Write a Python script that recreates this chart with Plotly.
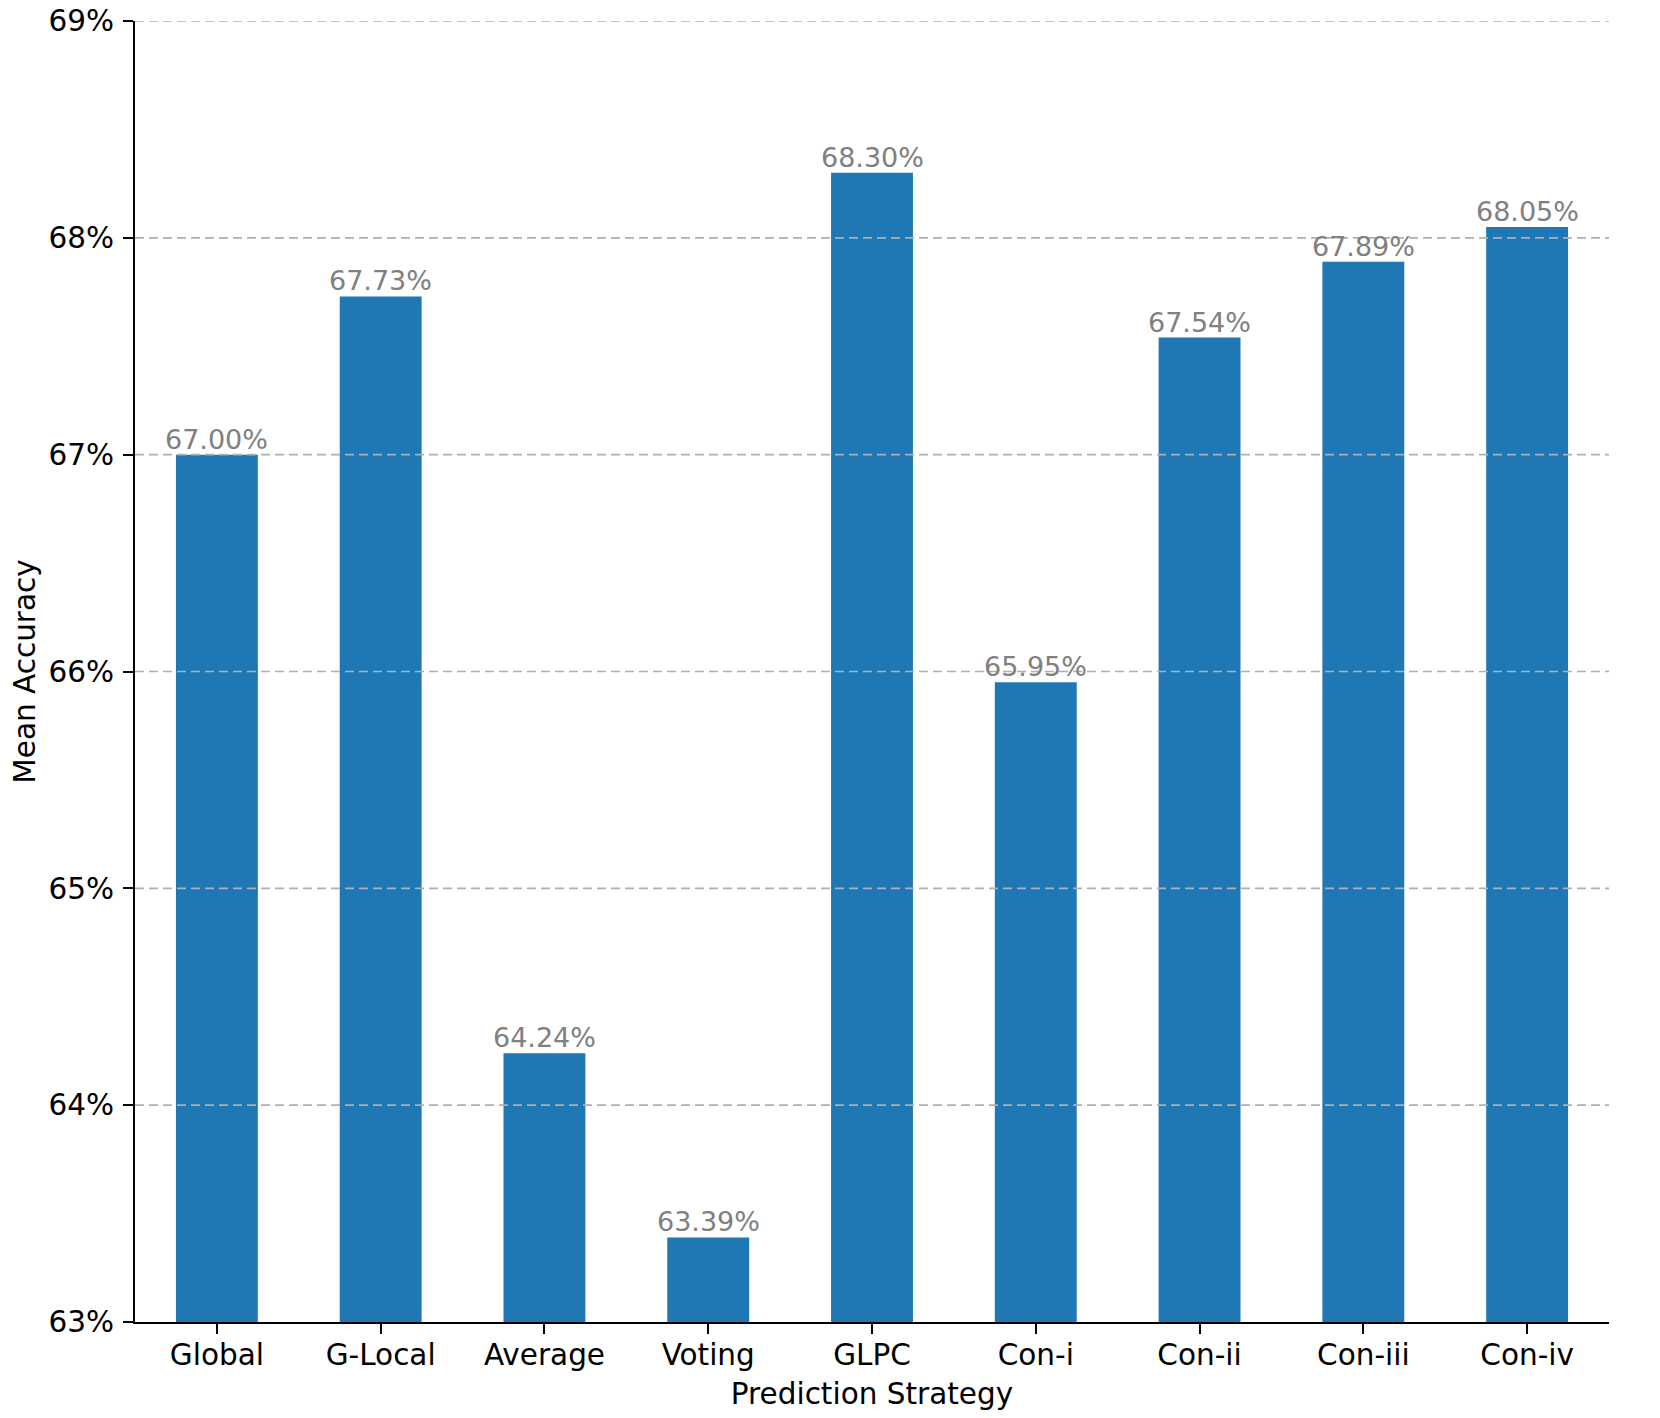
import plotly.graph_objects as go

categories = ["Global", "G-Local", "Average", "Voting", "GLPC", "Con-i", "Con-ii", "Con-iii", "Con-iv"]
accuracy = [67.00, 67.73, 64.24, 63.39, 68.30, 65.95, 67.54, 67.89, 68.05]
y_ticks = [63, 64, 65, 66, 67, 68, 69]
y_tick_labels = [f"{v}%" for v in y_ticks]
value_labels = [f"{v:.2f}%" for v in accuracy]

FONT = "DejaVu Sans"

fig = go.Figure()
fig.add_trace(go.Bar(
    x=categories,
    y=[v - 63 for v in accuracy],
    base=63,
    marker=dict(color="#1f77b4", line=dict(width=0)),
    hoverinfo="skip",
))

for c, v, t in zip(categories, accuracy, value_labels):
    fig.add_annotation(x=c, y=v, text=t, showarrow=False, yanchor="bottom",
                       yshift=-2, font=dict(family=FONT, size=27, color="#808080"))

shapes = []
for yv in y_ticks[1:]:
    shapes.append(dict(type="line", xref="paper", x0=0, x1=1, yref="y", y0=yv, y1=yv,
                       line=dict(color="#b0b0b0", width=1.6, dash="9px,5px"), layer="above"))

# page body has an 8px default margin, so the figure is sized to fit the window
fig.update_layout(
    width=1652, height=1410,
    margin=dict(l=127, r=51, t=13, b=96),
    paper_bgcolor="white", plot_bgcolor="white",
    bargap=0.5,
    showlegend=False,
    shapes=shapes,
    font=dict(family=FONT, color="black", size=29),
)
fig.update_xaxes(
    type="category", range=[-0.5, 8.5], automargin=False,
    showline=True, linecolor="black", linewidth=2,
    ticks="outside", ticklen=10, tickwidth=2, tickcolor="black",
    ticklabelstandoff=-4, ticklabeloverflow="allow",
    tickfont=dict(family=FONT, size=29.5, color="black"),
    showgrid=False, zeroline=False,
    title=dict(text="Prediction Strategy", font=dict(family=FONT, size=29.5), standoff=12),
)
fig.update_yaxes(
    range=[63, 69], automargin=False,
    tickvals=y_ticks, ticktext=y_tick_labels,
    showline=True, linecolor="black", linewidth=2,
    ticks="outside", ticklen=10, tickwidth=2, tickcolor="black",
    ticklabelstandoff=3, ticklabeloverflow="allow",
    tickfont=dict(family=FONT, size=29.5, color="black"),
    showgrid=False, zeroline=False,
    title=dict(text="Mean Accuracy", font=dict(family=FONT, size=29.5), standoff=7),
)

fig.write_html("out.html")
